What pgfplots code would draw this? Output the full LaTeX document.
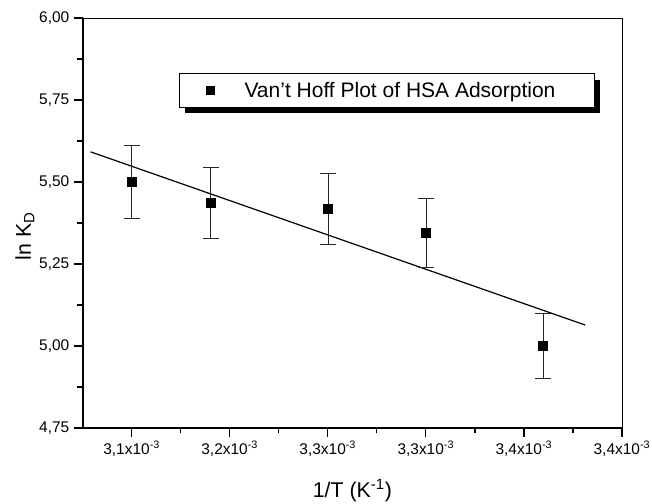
\documentclass[border=0pt]{standalone}
\usepackage{fontspec}
\setmainfont{Liberation Sans}
\usepackage{pgfplots}
\pgfplotsset{compat=1.18}
\pgfplotstableread{
x      y      e
0      5.500  0.110
0.806  5.436  0.109
2.003  5.418  0.107
3.003  5.344  0.106
4.196  5.000  0.100
}\datatable
\begin{document}
\begin{tikzpicture}
\useasboundingbox (-62pt,-56.25pt) rectangle (427pt,321pt);
\begin{axis}[
  at={(0pt,0pt)}, anchor=south west,
  scale only axis, width=404.5pt, height=307.5pt,
  xmin=-0.5, xmax=5, ymin=4.75, ymax=6.0,
  xtick={0,1,2,3,4,5},
  xticklabels={{3,1x10\textsuperscript{-3}},{3,2x10\textsuperscript{-3}},{3,3x10\textsuperscript{-3}},{3,3x10\textsuperscript{-3}},{3,4x10\textsuperscript{-3}},{3,4x10\textsuperscript{-3}}},
  ytick={4.75,5,5.25,5.5,5.75,6},
  minor x tick num=1, minor y tick num=1,
  tick align=outside, tick pos=left,
  major tick length=6.5pt, minor tick length=4pt,
  every tick/.style={black, line width=0.9pt},
  /pgf/number format/assume math mode=true,
  y tick label style={/pgf/number format/.cd, fixed, fixed zerofill, precision=2, use comma},
  tick label style={font=\fontsize{11.6}{13}\selectfont},
  axis line style={line width=0.6pt},
  xlabel={1/T (K\textsuperscript{-1})},
  ylabel={ln K\textsubscript{D}},
  label style={font=\fontsize{16}{19}\selectfont},
  xlabel style={at={(rel axis cs:0.5,-0.152)}, anchor=center},
  ylabel style={at={(rel axis cs:-0.107,0.468)}, anchor=center},
  legend style={at={(rel axis cs:0.179,0.865)}, anchor=north west,
    draw=black, line width=0.5pt, fill=white,
    inner xsep=0pt, inner ysep=0pt, column sep=0pt,
    nodes={inner sep=0pt, text depth=7pt, text height=18pt, draw=none},
    font=\fontsize{15.75}{18}\selectfont},
  legend cell align=left,
  legend image code/.code={
    \path[draw=none, fill=none] (0pt,-12.5pt) rectangle (48.75pt,12.5pt);
    \fill[black, draw=none] (19.85pt,-3.4pt) rectangle (26.65pt,3.4pt);
  },
]
\fill[black] ([shift={(4.5pt,-5pt)}]rel axis cs:0.179,0.865) rectangle ++(311.25pt,-25pt);
\addplot[black, line width=0.9pt, forget plot] coordinates {(-0.42,5.592) (4.624,5.064)};
\addplot[only marks, mark=square*, mark size=3.4pt, black, mark options={fill=black},
  error bars/.cd, y dir=both, y explicit,
  error bar style={line width=0.7pt, black!85},
  error mark options={rotate=90, mark size=5.9pt, line width=0.7pt, black!85}]
  table[x=x, y=y, y error=e] {\datatable};
\addlegendentry{\makebox[262.5pt][l]{Van't Hoff Plot of HSA Adsorption}}
\end{axis}
\draw[line width=1.5pt] (current axis.north west) -- (current axis.south west) -- (current axis.south east);
\end{tikzpicture}
\end{document}
